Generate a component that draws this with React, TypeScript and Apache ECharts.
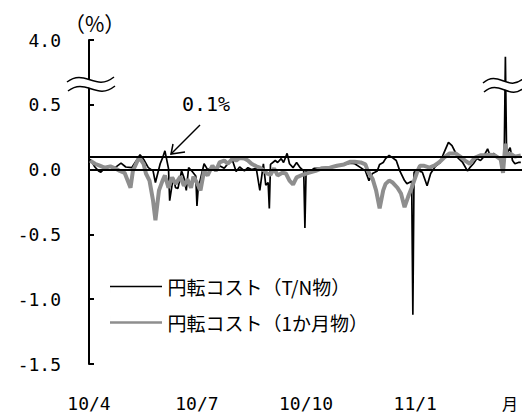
import { useEffect, useRef } from "react";
import * as echarts from "echarts";

// ---- data (values in %) ----
const tnName = "円転コスト（T/N物）";
const m1Name = "円転コスト（1か月物）";

const tnDates = [
  "2010-04-02","2010-04-06","2010-04-09","2010-04-11","2010-04-14","2010-04-19","2010-04-23","2010-04-28",
  "2010-05-02","2010-05-07","2010-05-11","2010-05-14","2010-05-17","2010-05-21","2010-05-25","2010-05-27",
  "2010-05-31","2010-06-02","2010-06-04","2010-06-07","2010-06-08","2010-06-11","2010-06-13","2010-06-15",
  "2010-06-18","2010-06-20","2010-06-22","2010-06-24","2010-06-27","2010-06-30","2010-07-01","2010-07-02",
  "2010-07-07","2010-07-10","2010-07-14","2010-07-17","2010-07-20","2010-07-24","2010-07-27","2010-07-31",
  "2010-08-03","2010-08-06","2010-08-10","2010-08-13","2010-08-16","2010-08-20","2010-08-23","2010-08-26",
  "2010-08-28","2010-08-30","2010-08-31","2010-09-01","2010-09-05","2010-09-07","2010-09-10","2010-09-12",
  "2010-09-15","2010-09-17","2010-09-20","2010-09-23","2010-09-26","2010-09-29","2010-09-30","2010-10-01",
  "2010-10-04","2010-10-08","2010-10-13","2010-10-21","2010-10-30","2010-11-07","2010-11-11","2010-11-16",
  "2010-11-20","2010-11-23","2010-11-26","2010-11-30","2010-12-02","2010-12-05","2010-12-07","2010-12-10",
  "2010-12-13","2010-12-16","2010-12-19","2010-12-23","2010-12-25","2010-12-29","2010-12-30","2010-12-31",
  "2011-01-04","2011-01-07","2011-01-11","2011-01-14","2011-01-18","2011-01-22","2011-01-25","2011-01-29",
  "2011-02-01","2011-02-04","2011-02-06","2011-02-10","2011-02-14","2011-02-16","2011-02-19","2011-02-22",
  "2011-02-25","2011-02-27","2011-03-03","2011-03-05","2011-03-08","2011-03-12","2011-03-15","2011-03-17",
  "2011-03-18","2011-03-19","2011-03-22","2011-03-24","2011-03-26","2011-03-29","2011-03-31"
];
const tnValues = [
  0.08, 0.02, -0.01, -0.02, 0.01, 0.02, 0.015, 0.05,
  0.02, 0.015, 0.07, 0.115, 0.08, 0.015, -0.01, -0.10,
  0.045, 0.09, 0.145, 0.01, -0.24, -0.06, -0.14, -0.145,
  -0.01, -0.06, -0.16, 0.015, -0.015, -0.05, -0.28, -0.15,
  0.045, 0.0, 0.015, -0.01, 0.03, 0.01, 0.045, 0.07,
  -0.015, 0.02, -0.01, 0.015, 0.0, 0.01, -0.16, 0.045,
  -0.12, -0.10, -0.30, 0.04, 0.07, 0.055, 0.085, 0.055,
  0.125, 0.045, 0.015, 0.055, 0.015, -0.01, -0.45, -0.01,
  -0.015, 0.01, 0.01, 0.015, 0.03, 0.05, 0.045, 0.015,
  -0.01, -0.085, -0.03, -0.01, 0.04, 0.055, 0.085, 0.11,
  0.09, 0.07, -0.01, -0.085, -0.11, -0.09, -1.12, -0.02,
  -0.01, -0.02, -0.125, -0.03, 0.025, 0.055, 0.125, 0.21,
  0.185, 0.13, 0.09, 0.055, -0.01, 0.015, 0.045, 0.085,
  0.07, 0.09, 0.16, 0.11, 0.125, 0.09, 0.085, 0.10,
  3.1, 0.12, 0.17, 0.07, 0.045, 0.055, 0.055
];

const m1Dates = [
  "2010-04-02","2010-04-06","2010-04-10","2010-04-14","2010-04-19","2010-04-23","2010-04-27","2010-05-01",
  "2010-05-06","2010-05-08","2010-05-12","2010-05-14","2010-05-17","2010-05-19","2010-05-22","2010-05-25",
  "2010-05-27","2010-05-30","2010-06-02","2010-06-04","2010-06-07","2010-06-10","2010-06-13","2010-06-17",
  "2010-06-20","2010-06-23","2010-06-26","2010-06-28","2010-07-01","2010-07-04","2010-07-07","2010-07-10",
  "2010-07-14","2010-07-17","2010-07-20","2010-07-24","2010-07-27","2010-07-31","2010-08-03","2010-08-06",
  "2010-08-10","2010-08-13","2010-08-16","2010-08-20","2010-08-23","2010-08-27","2010-08-29","2010-09-01",
  "2010-09-04","2010-09-07","2010-09-11","2010-09-14","2010-09-17","2010-09-20","2010-09-23","2010-09-28",
  "2010-10-03","2010-10-09","2010-10-14","2010-10-21","2010-10-27","2010-11-02","2010-11-07","2010-11-11",
  "2010-11-16","2010-11-20","2010-11-22","2010-11-26","2010-11-29","2010-12-02","2010-12-05","2010-12-07",
  "2010-12-10","2010-12-13","2010-12-17","2010-12-20","2010-12-23","2010-12-26","2010-12-29","2011-01-03",
  "2011-01-05","2011-01-08","2011-01-13","2011-01-17","2011-01-21","2011-01-25","2011-01-30","2011-02-04",
  "2011-02-08","2011-02-12","2011-02-16","2011-02-20","2011-02-25","2011-03-01","2011-03-05","2011-03-09",
  "2011-03-14","2011-03-16","2011-03-18","2011-03-19","2011-03-22","2011-03-26","2011-03-31"
];
const m1Values = [
  0.07, 0.045, 0.03, 0.015, 0.025, 0.01, -0.01, -0.025,
  -0.14, -0.01, 0.07, 0.085, 0.045, -0.03, -0.085, -0.24,
  -0.39, -0.16, -0.085, -0.045, -0.14, -0.06, -0.11, -0.055,
  -0.125, -0.075, -0.14, -0.055, -0.10, -0.16, -0.01, -0.045,
  0.03, -0.01, 0.055, 0.07, 0.045, 0.085, 0.07, 0.09,
  0.085, 0.07, 0.045, 0.025, 0.015, -0.01, -0.03, -0.04,
  0.01, -0.045, -0.025, -0.03, -0.085, -0.115, -0.06, -0.04,
  -0.025, -0.01, 0.01, 0.015, 0.03, 0.04, 0.06, 0.06,
  0.055, 0.04, -0.01, -0.07, -0.16, -0.30, -0.16, -0.11,
  -0.085, -0.10, -0.14, -0.185, -0.29, -0.21, -0.14, -0.01,
  0.03, 0.03, 0.015, 0.03, 0.055, 0.09, 0.125, 0.125,
  0.10, 0.07, 0.045, 0.09, 0.11, 0.11, 0.115, 0.11,
  0.08, -0.025, 0.20, 0.11, 0.125, 0.10, 0.11
];

const refLines = [0.1, 0.0];
const xTickDates = ["2010-04-01", "2010-07-01", "2010-10-01", "2011-01-01"];
const xTickLabels = ["10/4", "10/7", "10/10", "11/1"];
const xRange = ["2010-04-01", "2011-04-01"];
// broken axis: 0.5 .. 4.0 is drawn in the space of 0.5 units
const breakLow = 0.5;
const breakHigh = 4.0;
const yMin = -1.5;
const yStep = 0.5;

const squeeze = (breakHigh - breakLow) / yStep;
const toDisplay = (v: number) => (v > breakLow ? breakLow + (v - breakLow) / squeeze : v);
const fromDisplay = (d: number) => (d > breakLow + 1e-9 ? breakLow + (d - breakLow) * squeeze : d);
const parseLocal = (s: string) => {
  const [y, m, d] = s.split("-").map(Number);
  return new Date(y, m - 1, d).getTime();
};

const numFont = '"DejaVu Sans Mono", monospace';
const jpFont = '"Noto Sans CJK JP", sans-serif';

export default function App() {
  const ref = useRef<HTMLDivElement>(null);
  useEffect(() => {
    if (!ref.current) return;
    const chart = echarts.init(ref.current, undefined, { renderer: "svg" });
    const xTicks = xTickDates.map(parseLocal);
    const wave = (x: number, y: number, w: number, color: string, lw: number) => ({
      type: "bezierCurve",
      z: 100,
      shape: {
        x1: x, y1: y + 2, x2: x + w, y2: y - 3,
        cpx1: x + w * 0.38, cpy1: y - 12, cpx2: x + w * 0.6, cpy2: y + 12,
      },
      style: { stroke: color, lineWidth: lw, fill: null },
    });
    chart.setOption({
      animation: false,
      grid: { left: 89, right: 0, top: 40, bottom: 50, containLabel: false },
      legend: {
        orient: "vertical",
        left: 110,
        top: 277,
        padding: 0,
        itemWidth: 53,
        itemHeight: 14,
        itemGap: 17,
        itemStyle: { borderWidth: 0 },
        textStyle: { fontSize: 19, fontFamily: jpFont, color: "#000" },
        data: [
          { name: tnName, icon: "path://M0,0L0.01,0L0.01,14L0,14Z M0,6.2L52,6.2L52,7.8L0,7.8Z" },
          { name: m1Name, icon: "path://M0,0L0.01,0L0.01,14L0,14Z M0,5.7L52,5.7L52,8.3L0,8.3Z" },
        ],
      },
      xAxis: {
        type: "value",
        min: parseLocal(xRange[0]),
        max: parseLocal(xRange[1]),
        axisLine: { show: false },
        axisTick: { show: false },
        splitLine: { show: false },
        axisLabel: {
          customValues: xTicks,
          margin: 30,
          fontSize: 18,
          fontFamily: numFont,
          color: "#000",
          formatter: (v: number) => {
            let best = 0;
            xTicks.forEach((t, i) => {
              if (Math.abs(t - v) < Math.abs(xTicks[best] - v)) best = i;
            });
            return xTickLabels[best];
          },
        },
      },
      yAxis: {
        type: "value",
        min: yMin,
        max: toDisplay(breakHigh),
        interval: yStep,
        axisLine: { show: true, lineStyle: { color: "#000", width: 2 } },
        axisTick: { show: true, inside: true, length: 5, lineStyle: { color: "#000", width: 2 } },
        splitLine: { show: false },
        axisLabel: {
          margin: 28,
          fontSize: 18,
          fontFamily: numFont,
          color: "#000",
          formatter: (d: number) => fromDisplay(d).toFixed(1),
        },
      },
      series: [
        {
          name: tnName,
          type: "line",
          symbol: "none",
          lineStyle: { color: "#000", width: 1.7 },
          itemStyle: { color: "#000" },
          data: tnDates.map((d, i) => [parseLocal(d), toDisplay(tnValues[i])]),
          markLine: {
            silent: true,
            symbol: ["none", "none"],
            label: { show: false },
            lineStyle: { color: "#000", width: 2, type: "solid" },
            data: refLines.map((v) => ({ yAxis: v })),
          },
        },
        {
          name: m1Name,
          type: "line",
          symbol: "none",
          lineStyle: { color: "#8e8e8e", width: 4 },
          itemStyle: { color: "#8e8e8e" },
          data: m1Dates.map((d, i) => [parseLocal(d), toDisplay(m1Values[i])]),
        },
      ],
      graphic: [
        { type: "text", z: 100, left: 64, top: 12, style: { text: "（%）", fontSize: 21, fontFamily: jpFont, fill: "#000" } },
        { type: "text", z: 100, left: 182, top: 94, style: { text: "0.1%", fontSize: 20, fontFamily: numFont, fill: "#000" } },
        { type: "line", z: 100, shape: { x1: 200, y1: 125, x2: 171, y2: 154 }, style: { stroke: "#000", lineWidth: 1.5 } },
        { type: "polyline", z: 100, shape: { points: [[173, 144], [171, 154], [185, 152]] }, style: { stroke: "#000", lineWidth: 1.5, fill: null } },
        wave(67, 84, 47, "#fff", 8),
        wave(67, 80, 47, "#000", 1.5),
        wave(68, 89, 47, "#000", 1.5),
        wave(483, 85, 41, "#fff", 8),
        wave(483, 81, 41, "#000", 1.5),
        wave(484, 90, 41, "#000", 1.5),
        { type: "text", z: 100, left: 502, top: 395, style: { text: "月", fontSize: 16, fontFamily: jpFont, fill: "#000" } },
      ],
    });
    return () => chart.dispose();
  }, []);
  return <div ref={ref} style={{ width: 522, height: 414, position: "absolute", left: 0, top: 0 }} />;
}
